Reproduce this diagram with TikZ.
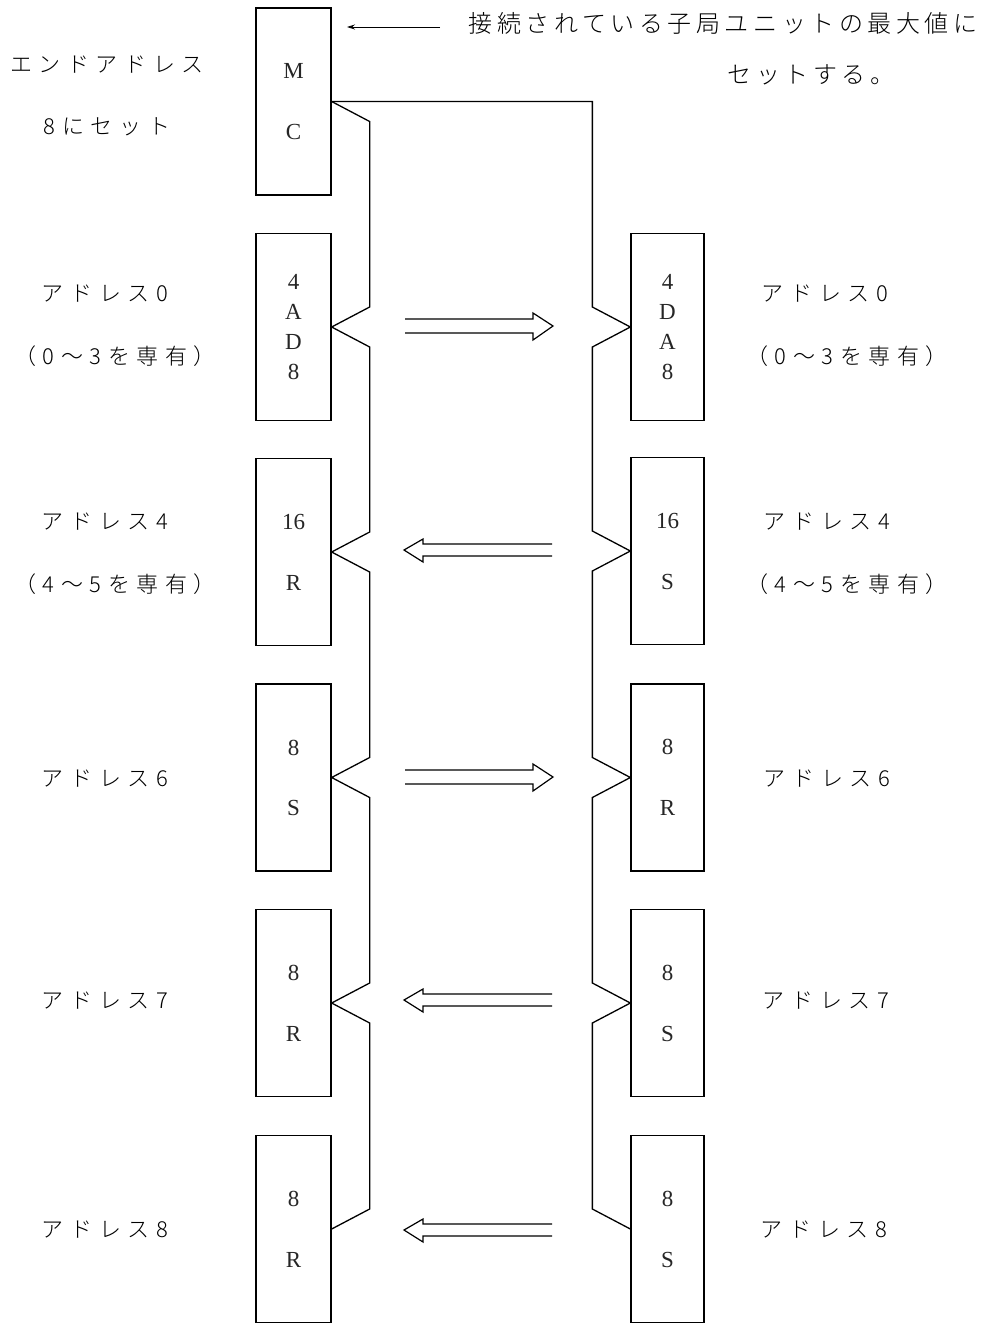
\documentclass[tikz,border=0pt]{standalone}
\usepackage{fontspec}
\newfontfamily\jp[LetterSpace=30]{Noto Sans CJK JP Light}
\newfontfamily\jpb[LetterSpace=19]{Noto Sans CJK JP Light}
\newfontfamily\boxfont{Liberation Serif}
\usetikzlibrary{calc,arrows.meta}
\begin{document}
\begin{tikzpicture}[x=1pt,y=-1pt, line width=1.3pt,
 unit/.style={draw, minimum width=75pt, minimum height=187pt, inner sep=0pt, align=center, text=black!85, font=\boxfont\fontsize{23}{30}\selectfont},
 lab/.style={font=\jp\fontsize{22}{22}\selectfont, inner sep=0pt, text=black},
 labb/.style={font=\jpb\fontsize{24}{24}\selectfont, inner sep=0pt, text=black},
 wire/.style={line width=1.3pt, line join=miter},
 dbl/.style={line width=1.2pt, line join=miter}]
\useasboundingbox (0,0) rectangle (983,1323);

% units left
\node[unit] (mc) at (293.5,101.5) {M\\[31pt]C};
\node[unit] (l1) at (293.5,327) {4\\A\\D\\8};
\node[unit] (l2) at (293.5,552) {16\\[31pt]R};
\node[unit] (l3) at (293.5,777.5) {8\\[30pt]S};
\node[unit] (l4) at (293.5,1003) {8\\[31pt]R};
\node[unit] (l5) at (293.5,1229) {8\\[31pt]R};
% units right
\node[unit, minimum width=73pt] (r1) at (667.5,327) {4\\D\\A\\8};
\node[unit, minimum width=73pt] (r2) at (667.5,551) {16\\[31pt]S};
\node[unit, minimum width=73pt] (r3) at (667.5,777.5) {8\\[31pt]R};
\node[unit, minimum width=73pt] (r4) at (667.5,1003) {8\\[31pt]S};
\node[unit, minimum width=73pt] (r5) at (667.5,1229) {8\\[31pt]S};

% left wire
\draw[wire] (mc.east) -- ++(38,20)
  -- ($(l1.east)+(38,-20)$) -- (l1.east) -- ($(l1.east)+(38,20)$)
  -- ($(l2.east)+(38,-20)$) -- (l2.east) -- ($(l2.east)+(38,20)$)
  -- ($(l3.east)+(38,-20)$) -- (l3.east) -- ($(l3.east)+(38,20)$)
  -- ($(l4.east)+(38,-20)$) -- (l4.east) -- ($(l4.east)+(38,20)$)
  -- ($(l5.east)+(38,-20)$) -- (l5.east);
% right wire
\coordinate (rw) at ($(r1.west)+(-38,0)$);
\draw[wire] (mc.east) -- (rw |- mc.east)
  -- ($(r1.west)+(-38,-20)$) -- (r1.west) -- ($(r1.west)+(-38,20)$)
  -- ($(r2.west)+(-38,-20)$) -- (r2.west) -- ($(r2.west)+(-38,20)$)
  -- ($(r3.west)+(-38,-20)$) -- (r3.west) -- ($(r3.west)+(-38,20)$)
  -- ($(r4.west)+(-38,-20)$) -- (r4.west) -- ($(r4.west)+(-38,20)$)
  -- ($(r5.west)+(-38,-20)$) -- (r5.west);

% double arrows
\foreach \y in {326,777} {
  \draw[dbl] (405,\y-7) -- (533,\y-7) -- (533,\y-13) -- (553,\y) -- (533,\y+14) -- (533,\y+7) -- (405,\y+7);
}
\foreach \y in {550,1000,1230} {
  \draw[dbl] (552,\y-6) -- (423,\y-6) -- (423,\y-11) -- (404,\y) -- (423,\y+12) -- (423,\y+6) -- (552,\y+6);
}

% top note
\node[labb, anchor=west] (note1) at (468,23) {接続されている子局ユニットの最大値に};
\node[labb, anchor=west] (note2) at (727,75) {セットする。};
\coordinate (na) at (440,27);
\coordinate (nb) at (347,27);
\draw[line width=0.8pt, -{Stealth[length=8pt,width=5pt]}] (na) -- (nb);

% left labels
\node[lab] (e1) at (107,65) {エンドアドレス};
\node[lab] (e2) at (107,127) {8にセット};
\node[lab] (la1) at (105,294) {アドレス0};
\node[lab] (lb1) at (115,356) {（0～3を専有）};
\node[lab] (la2) at (105,522) {アドレス4};
\node[lab] (lb2) at (115,584) {（4～5を専有）};
\node[lab] (la3) at (105,779) {アドレス6};
\node[lab] (la4) at (105,1001) {アドレス7};
\node[lab] (la5) at (105,1230) {アドレス8};
% right labels
\node[lab] (ra1) at (825,294) {アドレス0};
\node[lab] (rb1) at (847,356) {（0～3を専有）};
\node[lab] (ra2) at (827,522) {アドレス4};
\node[lab] (rb2) at (847,584) {（4～5を専有）};
\node[lab] (ra3) at (827,779) {アドレス6};
\node[lab] (ra4) at (826,1001) {アドレス7};
\node[lab] (ra5) at (824,1230) {アドレス8};
\end{tikzpicture}
\end{document}
